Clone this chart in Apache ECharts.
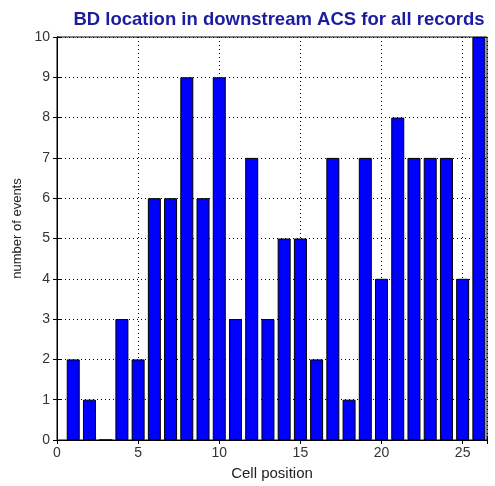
<!DOCTYPE html>
<html>
<head>
<meta charset="utf-8">
<script src="https://cdn.jsdelivr.net/npm/echarts@6/dist/echarts.min.js"></script>
<style>html,body{margin:0;padding:0;background:#fff;}#c{width:495px;height:486px;}</style>
</head>
<body>
<div id="c"></div>
<script>
var cellPositions = [1,2,3,4,5,6,7,8,9,10,11,12,13,14,15,16,17,18,19,20,21,22,23,24,25,26];
var eventCounts = [2,1,0,3,2,6,6,9,6,9,3,7,3,5,5,2,7,1,7,4,8,7,7,7,4,10];
var xTicks = [0,5,10,15,20,25];
var yTicks = [0,1,2,3,4,5,6,7,8,9,10];

var font = 'Liberation Sans, Arial, Helvetica, sans-serif';
var chart = echarts.init(document.getElementById('c'), null, {renderer: 'canvas'});
var data = cellPositions.map(function (x, i) { return [x, eventCounts[i]]; });
var dotted = {color: '#000', width: 1, type: [1, 3]};

chart.setOption({
  animation: false,
  backgroundColor: '#fff',
  title: {
    text: 'BD location in downstream ACS for all records',
    left: 274, top: 5, textAlign: 'center',
    textStyle: {color: '#1c1ca0', fontSize: 18.5, fontWeight: 'bold', fontFamily: font}
  },
  grid: {left: 57, right: 8, top: 37, bottom: 41, show: true, borderColor: '#000', borderWidth: 1, backgroundColor: 'transparent'},
  xAxis: [{
    type: 'value', min: 0, max: 26.5, interval: 5,
    name: 'Cell position', nameLocation: 'middle', nameGap: 26,
    nameTextStyle: {color: '#222', fontSize: 15, fontFamily: font},
    axisLine: {show: true, lineStyle: {color: '#000'}},
    axisTick: {show: true, inside: true, length: 4, lineStyle: {color: '#000'}},
    axisLabel: {color: '#333', fontSize: 14, fontFamily: font, margin: 6,
      formatter: function (v) { return xTicks.indexOf(v) >= 0 ? String(v) : ''; }},
    splitLine: {show: true, lineStyle: dotted}
  }, {
    type: 'value', min: 0, max: 26.5, interval: 5, position: 'top',
    axisLine: {show: true, lineStyle: {color: '#000'}},
    axisTick: {show: true, inside: true, length: 4, lineStyle: {color: '#000'}},
    axisLabel: {show: false}, splitLine: {show: false}
  }],
  yAxis: [{
    type: 'value', min: 0, max: 10, interval: 1,
    name: 'number of events', nameLocation: 'middle', nameGap: 31,
    nameTextStyle: {color: '#222', fontSize: 13, fontFamily: font, padding: [0, 0, 0, 20]},
    axisLine: {show: true, lineStyle: {color: '#000'}},
    axisTick: {show: true, inside: true, length: 4, lineStyle: {color: '#000'}},
    axisLabel: {color: '#333', fontSize: 14, fontFamily: font, margin: 7,
      formatter: function (v) { return yTicks.indexOf(v) >= 0 ? String(v) : ''; }},
    splitLine: {show: true, lineStyle: dotted}
  }, {
    type: 'value', min: 0, max: 10, interval: 1, position: 'right',
    axisLine: {show: true, lineStyle: {color: '#000'}},
    axisTick: {show: true, inside: true, length: 4, lineStyle: {color: '#000'}},
    axisLabel: {show: false}, splitLine: {show: false}
  }],
  series: [{
    type: 'bar', xAxisIndex: 0, yAxisIndex: 0,
    data: data, barWidth: 13,
    itemStyle: {color: '#0000ff', borderColor: '#000', borderWidth: 1}
  }]
});
</script>
</body>
</html>
